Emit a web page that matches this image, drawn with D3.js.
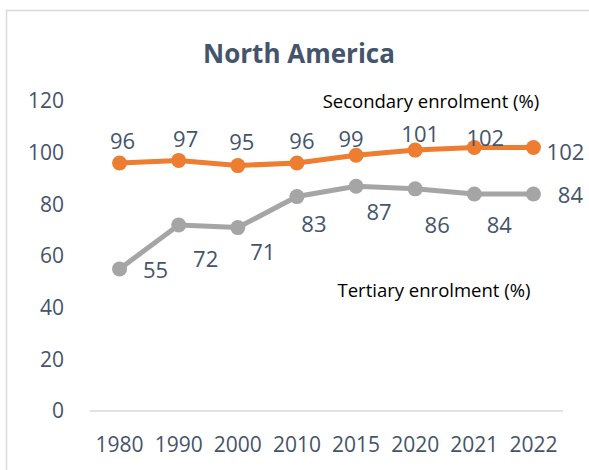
<!DOCTYPE html>
<html lang="en">

<head>
  <meta charset="utf-8">
  <title>North America</title>
  <script type="text/javascript" src="https://cdn.jsdelivr.net/npm/d3@7"></script>
  <style>
    body { margin: 0; background: #fff; }
  </style>
</head>

<body>

  <script type="text/javascript">

    // Data
    var years = ["1980", "1990", "2000", "2010", "2015", "2020", "2021", "2022"];
    var secondary = [96, 97, 95, 96, 99, 101, 102, 102];
    var tertiary = [55, 72, 71, 83, 87, 86, 84, 84];
    var yTicks = [0, 20, 40, 60, 80, 100, 120];

    // Label nudges (dx, dy from the marker), like the hand placed labels of the original
    var secondaryNudge = [[3, -23], [7, -22], [4, -25], [5, -23], [-5, -17], [5, -17], [11, -11], [32, 3]];
    var tertiaryNudge = [[36, 0], [27, 33], [25, 23], [17, 26], [23, 25], [22, 35], [25, 30], [37, 0]];

    var w = 589;
    var h = 470;
    var textColor = "#44546A";
    var fontFamily = "'Open Sans', 'Noto Sans', sans-serif";

    // Scales
    var xScale = d3.scaleBand()
      .domain(years)
      .range([90, 563]);

    var yScale = d3.scaleLinear()
      .domain([0, 120])
      .range([411, 101]);

    function cx(d, i) {
      return xScale(years[i]) + xScale.bandwidth() / 2;
    }

    //Create SVG element
    var svg = d3.select("body")
      .append("svg")
      .attr("width", w)
      .attr("height", h);

    // Chart border
    svg.append("rect")
      .attr("x", 6.5)
      .attr("y", 10.5)
      .attr("width", 600)
      .attr("height", 500)
      .attr("fill", "none")
      .attr("stroke", "#D9D9D9")
      .attr("stroke-width", 1.5);

    // Title
    svg.append("text")
      .attr("x", 299)
      .attr("y", 63)
      .attr("text-anchor", "middle")
      .attr("font-family", fontFamily)
      .attr("font-weight", "bold")
      .attr("font-size", "26px")
      .attr("fill", textColor)
      .text("North America");

    // Y axis (labels only, no line)
    var yAxis = d3.axisLeft(yScale)
      .tickValues(yTicks)
      .tickSize(0)
      .tickPadding(0);

    var gy = svg.append("g")
      .attr("class", "y axis")
      .attr("transform", "translate(64,0)")
      .call(yAxis);
    gy.select(".domain").remove();
    gy.selectAll("text")
      .attr("font-family", fontFamily)
      .attr("font-size", "21px")
      .attr("fill", textColor);

    // Zero line
    svg.append("line")
      .attr("x1", xScale.range()[0])
      .attr("x2", xScale.range()[1])
      .attr("y1", yScale(0))
      .attr("y2", yScale(0))
      .attr("stroke", "#D9D9D9")
      .attr("stroke-width", 1.5);

    // X axis (labels only)
    var xAxis = d3.axisBottom(xScale)
      .tickSize(0)
      .tickPadding(0);

    var gx = svg.append("g")
      .attr("class", "x axis")
      .attr("transform", "translate(0,445)")
      .call(xAxis);
    gx.select(".domain").remove();
    gx.selectAll("text")
      .attr("dy", "0.35em")
      .attr("font-family", fontFamily)
      .attr("font-size", "21px")
      .attr("fill", textColor);

    // Draw one series with line, markers and labels
    function drawSeries(values, color, nudge) {
      var line = d3.line()
        .x(function (d, i) { return cx(d, i); })
        .y(function (d) { return yScale(d); });

      svg.append("path")
        .datum(values)
        .attr("d", line)
        .attr("fill", "none")
        .attr("stroke", color)
        .attr("stroke-width", 5)
        .attr("stroke-linejoin", "round");

      svg.append("g")
        .selectAll("circle")
        .data(values)
        .enter()
        .append("circle")
        .attr("cx", cx)
        .attr("cy", function (d) { return yScale(d); })
        .attr("r", 7.5)
        .attr("fill", color);

      svg.append("g")
        .selectAll("text")
        .data(values)
        .enter()
        .append("text")
        .attr("x", function (d, i) { return cx(d, i) + nudge[i][0]; })
        .attr("y", function (d, i) { return yScale(d) + nudge[i][1]; })
        .attr("text-anchor", "middle")
        .attr("dominant-baseline", "central")
        .attr("font-family", fontFamily)
        .attr("font-size", "22px")
        .attr("fill", textColor)
        .text(function (d) { return d; });
    }

    drawSeries(tertiary, "#A5A5A5", tertiaryNudge);
    drawSeries(secondary, "#ED7D31", secondaryNudge);

    // Series names
    svg.append("text")
      .attr("x", 431)
      .attr("y", 108)
      .attr("text-anchor", "middle")
      .attr("font-family", fontFamily)
      .attr("font-size", "18.5px")
      .attr("fill", "#000")
      .text("Secondary enrolment (%)");

    svg.append("text")
      .attr("x", 434)
      .attr("y", 297)
      .attr("text-anchor", "middle")
      .attr("font-family", fontFamily)
      .attr("font-size", "18.5px")
      .attr("fill", "#000")
      .text("Tertiary enrolment (%)");

  </script>

</body>

</html>
